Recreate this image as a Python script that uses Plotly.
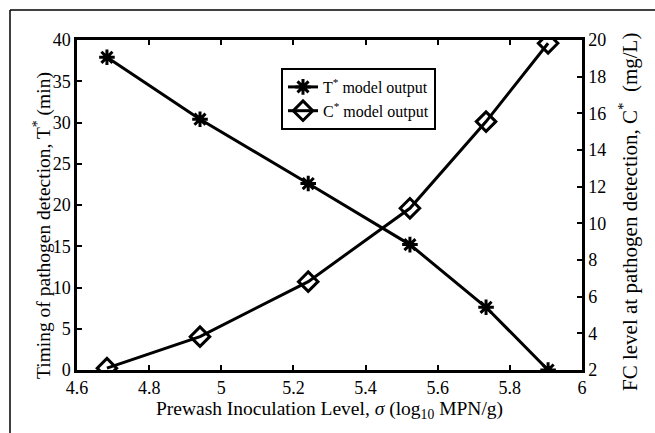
import plotly.graph_objects as go

sigma = [4.683, 4.941, 5.241, 5.523, 5.734, 5.906]
t_star = [37.9, 30.4, 22.6, 15.2, 7.6, 0.0]
c_star = [2.1, 3.82, 6.82, 10.82, 15.55, 19.82]

x_tickvals = [4.6, 4.8, 5.0, 5.2, 5.4, 5.6, 5.8, 6.0]
x_ticktext = ["4.6", "4.8", "5", "5.2", "5.4", "5.6", "5.8", "6"]
y_tickvals = [0, 5, 10, 15, 20, 25, 30, 35, 40]
y2_tickvals = [2, 4, 6, 8, 10, 12, 14, 16, 18, 20]

FONT = "'Liberation Serif', 'Times New Roman', Times, serif"

fig = go.Figure()
fig.add_trace(go.Scatter(
    x=sigma, y=t_star, mode="lines+markers",
    name="T<sup>*</sup> model output",
    line=dict(color="black", width=3),
    marker=dict(symbol="asterisk-open", size=13, color="black",
                line=dict(color="black", width=3)),
))
fig.add_trace(go.Scatter(
    x=sigma, y=c_star, mode="lines+markers", yaxis="y2",
    name="C<sup>*</sup> model output",
    line=dict(color="black", width=3),
    marker=dict(symbol="diamond-open", size=15, color="black",
                line=dict(color="black", width=3)),
))

L, R, T, B = 77, 582, 40, 370
W, H = 655, 433

def px(x):
    return (x - L) / (R - L)

def py(y):
    return (B - y) / (B - T)

fig.update_layout(
    width=W, height=H,
    margin=dict(l=L, r=W - R, t=T, b=H - B, pad=0),
    paper_bgcolor="white", plot_bgcolor="white",
    font=dict(family=FONT, size=16, color="black"),
    showlegend=True,
    legend=dict(x=px(281), y=py(68), xanchor="left", yanchor="top",
                bordercolor="black", borderwidth=2, bgcolor="white",
                font=dict(family=FONT, size=16), itemwidth=30,
                tracegroupgap=0),
    xaxis=dict(range=[4.6, 6.0], tickvals=x_tickvals, ticktext=x_ticktext,
               ticks="inside", ticklen=5, tickwidth=2, tickcolor="black",
               showline=True, linewidth=2.5, linecolor="black", mirror="ticks",
               showgrid=False, zeroline=False,
               title=dict(text="Prewash Inoculation Level, <i>σ</i> (log<sub>10</sub> MPN/g)",
                          font=dict(family=FONT, size=19.5), standoff=3),
               tickfont=dict(family=FONT, size=18)),
    yaxis=dict(range=[0, 40], tickvals=y_tickvals,
               ticks="inside", ticklen=5, tickwidth=2, tickcolor="black",
               showline=True, linewidth=2.5, linecolor="black",
               showgrid=False, zeroline=False,
               tickfont=dict(family=FONT, size=18)),
    yaxis2=dict(range=[2, 20], tickvals=y2_tickvals, overlaying="y", side="right",
                ticks="inside", ticklen=5, tickwidth=2, tickcolor="black",
                showline=True, linewidth=2.5, linecolor="black",
                showgrid=False, zeroline=False,
                tickfont=dict(family=FONT, size=18)),
)

# y-axis titles placed as annotations (offset from plot centre as in the reference)
fig.add_annotation(text="Timing of pathogen detection, T<sup>*</sup> (min)",
                   xref="paper", yref="paper", x=px(42), y=py(226),
                   xanchor="center", yanchor="middle", textangle=-90,
                   showarrow=False, font=dict(family=FONT, size=19.5))
fig.add_annotation(text="FC level at pathogen detection, C<sup>*</sup>  (mg/L)",
                   xref="paper", yref="paper", x=px(628), y=py(212),
                   xanchor="center", yanchor="middle", textangle=-90,
                   showarrow=False, font=dict(family=FONT, size=21))

# outer frame (top and left edges visible in the reference)
fig.add_shape(type="line", xref="paper", yref="paper",
              x0=px(10), x1=px(660), y0=py(10), y1=py(10),
              line=dict(color="black", width=1.5))
fig.add_shape(type="line", xref="paper", yref="paper",
              x0=px(10), x1=px(10), y0=py(10), y1=py(440),
              line=dict(color="black", width=1.5))

fig.write_html("out.html")
